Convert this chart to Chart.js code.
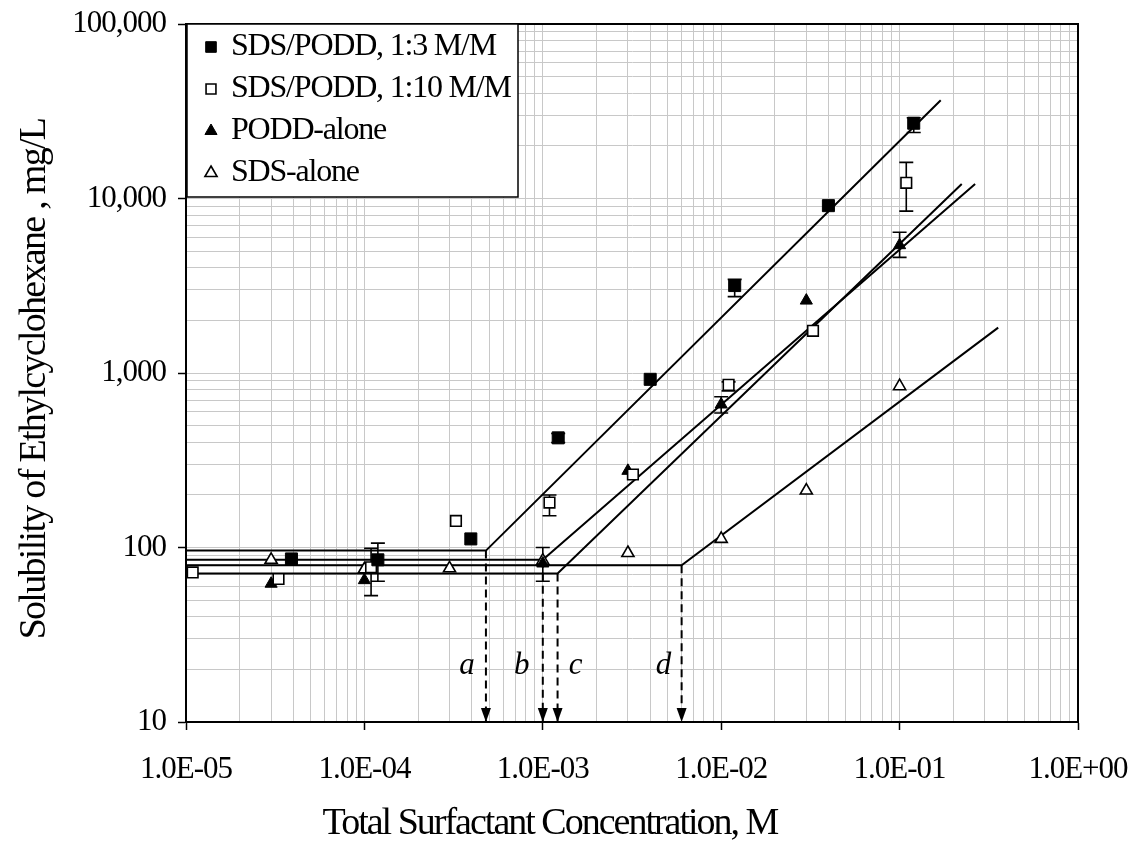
<!DOCTYPE html>
<html>
<head>
<meta charset="utf-8">
<script src="https://cdn.jsdelivr.net/npm/chart.js@4/dist/chart.umd.min.js"></script>
<style>
  body { margin: 0; background: #fff; }
  canvas { display: block; }
</style>
</head>
<body>
<canvas id="myChart" width="1137" height="852"></canvas>
<script>
// SDS/PODD, 1:3 M/M (filled squares)
let sq13X = [3.9e-5, 1.19e-4, 3.95e-4, 1.22e-3, 4.0e-3, 1.19e-2, 3.99e-2, 1.2e-1];
let sq13Y = [86, 85, 112, 425, 920, 3170, 9100, 27000];
let sq13Lo = [null, 64, null, 400, null, 2740, null, 23900];
let sq13Hi = [null, 106, null, 450, null, 3440, null, 29000];

// SDS/PODD, 1:10 M/M (open squares)
let sq110X = [1.09e-5, 3.3e-5, 1.09e-4, 3.26e-4, 1.09e-3, 3.2e-3, 1.1e-2, 3.27e-2, 1.09e-1];
let sq110Y = [72, 66, 77, 142, 181, 262, 855, 1745, 12300];
let sq110Lo = [null, null, 53, null, 152, null, 790, null, 8470];
let sq110Hi = [null, null, 99, null, 200, null, 890, null, 16100];

// PODD-alone (filled triangles)
let poddX = [1e-5, 3e-5, 1e-4, 1e-3, 3e-3, 1e-2, 3e-2, 1e-1];
let poddY = [73, 62, 65, 81, 275, 660, 2600, 5400];
let poddLo = [null, null, null, 64, null, 590, null, 4600];
let poddHi = [null, null, null, 100, null, 731, null, 6400];

// SDS-alone (open triangles)
let sdsX = [3e-5, 1e-4, 3e-4, 1e-3, 3e-3, 1e-2, 3e-2, 1e-1];
let sdsY = [85, 75, 76, 84, 93, 112, 212, 840];

// fitted lines: flat part, break, rising part
let fit13X = [1e-5, 4.8e-4, 0.17];
let fit13Y = [96, 96, 36600];
let fit110X = [1e-5, 1.0e-3, 0.265];
let fit110Y = [85, 85, 12100];
let fitPoddX = [1e-5, 1.21e-3, 0.223];
let fitPoddY = [71, 71, 12100];
let fitSdsX = [1e-5, 6.0e-3, 0.357];
let fitSdsY = [79, 79, 1820];

// dashed arrows at the breaks
let arrowX = [4.8e-4, 1.0e-3, 1.21e-3, 6.0e-3];
let arrowTopY = [96, 85, 71, 79];
let arrowLabels = ['a', 'b', 'c', 'd'];

let xMajor = [1e-5, 1e-4, 1e-3, 1e-2, 1e-1, 1];
let xTickLabels = ['1.0E-05', '1.0E-04', '1.0E-03', '1.0E-02', '1.0E-01', '1.0E+00'];
let yMajor = [10, 100, 1000, 10000, 100000];
let yTickLabels = ['10', '100', '1,000', '10,000', '100,000'];

let xTitle = 'Total Surfactant Concentration, M';
let yTitle = 'Solubility of Ethylcyclohexane , mg/L';

let serif = "'Liberation Serif', 'Times New Roman', serif";

function pts(xs, ys) {
    return xs.map((x, i) => ({ x: x, y: ys[i] }));
}

function isMajor(v) {
    let l = Math.log10(v);
    return Math.abs(l - Math.round(l)) < 1e-6;
}

// grid lines at 1..9 of every decade
function logTicks(majors) {
    let t = [];
    for (let i = 0; i < majors.length - 1; i++) {
        for (let m = 1; m < 10; m++) t.push({ value: m * majors[i] });
    }
    t.push({ value: majors[majors.length - 1] });
    return t;
}

function labelFor(v, majors, labels) {
    for (let i = 0; i < majors.length; i++) {
        if (Math.abs(v / majors[i] - 1) < 1e-6) return labels[i];
    }
    return '';
}

let pointSets = [
    { label: 'SDS/PODD, 1:3 M/M', data: pts(sq13X, sq13Y), lo: sq13Lo, hi: sq13Hi,
      pointStyle: 'rect', pointRadius: 8.5, backgroundColor: '#000', borderColor: '#000', borderWidth: 1, legendRadius: 7.5 },
    { label: 'SDS/PODD, 1:10 M/M', data: pts(sq110X, sq110Y), lo: sq110Lo, hi: sq110Hi,
      pointStyle: 'rect', pointRadius: 7.5, backgroundColor: '#fff', borderColor: '#000', borderWidth: 1.6, legendRadius: 7 },
    { label: 'PODD-alone', data: pts(poddX, poddY), lo: poddLo, hi: poddHi,
      pointStyle: 'triangle', pointRadius: 7, backgroundColor: '#000', borderColor: '#000', borderWidth: 1, legendRadius: 7 },
    { label: 'SDS-alone', data: pts(sdsX, sdsY),
      pointStyle: 'triangle', pointRadius: 7, backgroundColor: '#fff', borderColor: '#000', borderWidth: 1.6, legendRadius: 7 }
];
pointSets.forEach(d => { d.order = 0; d.showLine = false; });

let lineSets = [pts(fit13X, fit13Y), pts(fit110X, fit110Y), pts(fitPoddX, fitPoddY), pts(fitSdsX, fitSdsY)].map(d => ({
    data: d, showLine: true, borderColor: '#000', borderWidth: 2, pointRadius: 0, order: 1
}));

let arrowSets = arrowX.map((x, i) => ({
    data: [{ x: x, y: arrowTopY[i] }, { x: x, y: 10 }],
    showLine: true, borderColor: '#000', borderWidth: 2, borderDash: [8, 5], pointRadius: 0, order: 1
}));

// tight letter spacing for the tick labels too
let tightText = {
    id: 'tightText',
    beforeDraw(chart) {
        chart.ctx.letterSpacing = '-1px';
    }
};

let errorBars = {
    id: 'errorBars',
    beforeDatasetsDraw(chart) {
        let ctx = chart.ctx;
        let ys = chart.scales.y;
        ctx.save();
        ctx.strokeStyle = '#000';
        ctx.lineWidth = 1.6;
        chart.data.datasets.forEach((ds, i) => {
            if (!ds.lo) return;
            let meta = chart.getDatasetMeta(i);
            ds.lo.forEach((lo, j) => {
                if (lo == null) return;
                let x = meta.data[j].x;
                let y1 = ys.getPixelForValue(lo);
                let y2 = ys.getPixelForValue(ds.hi[j]);
                ctx.beginPath();
                ctx.moveTo(x, y1); ctx.lineTo(x, y2);
                ctx.moveTo(x - 7, y1); ctx.lineTo(x + 7, y1);
                ctx.moveTo(x - 7, y2); ctx.lineTo(x + 7, y2);
                ctx.stroke();
            });
        });
        ctx.restore();
    }
};

let frameAndNotes = {
    id: 'frameAndNotes',
    beforeDatasetsDraw(chart) {
        let a = chart.chartArea;
        let ctx = chart.ctx;
        ctx.save();
        ctx.strokeStyle = '#000';
        ctx.lineWidth = 2;
        ctx.strokeRect(a.left, a.top, a.right - a.left, a.bottom - a.top);
        ctx.restore();
    },
    afterDatasetsDraw(chart) {
        let ctx = chart.ctx;
        let xs = chart.scales.x, ys = chart.scales.y;
        let labelDx = [-19, -21, 18, -18];
        ctx.save();
        ctx.fillStyle = '#000';
        arrowX.forEach((v, i) => {
            let x = xs.getPixelForValue(v);
            let yb = chart.chartArea.bottom;
            ctx.beginPath();
            ctx.moveTo(x - 5, yb - 14);
            ctx.lineTo(x + 5, yb - 14);
            ctx.lineTo(x, yb);
            ctx.closePath();
            ctx.fill();
            ctx.font = 'italic 31px ' + serif;
            ctx.letterSpacing = '0px';
            ctx.textAlign = 'center';
            ctx.textBaseline = 'middle';
            ctx.fillText(arrowLabels[i], x + labelDx[i], ys.getPixelForValue(21));
        });

        // legend box inside the plot
        let bx = 187, by = 24, bw = 331, bh = 173;
        ctx.fillStyle = '#fff';
        ctx.fillRect(bx, by, bw, bh);
        ctx.strokeStyle = '#000';
        ctx.lineWidth = 1.5;
        ctx.strokeRect(bx, by, bw, bh);
        pointSets.forEach((ds, i) => {
            let y = 47 + i * 42;
            ctx.fillStyle = ds.backgroundColor;
            ctx.strokeStyle = ds.borderColor;
            ctx.lineWidth = ds.borderWidth;
            Chart.helpers.drawPoint(ctx, { pointStyle: ds.pointStyle, radius: ds.legendRadius, rotation: 0, borderWidth: ds.borderWidth }, 211, y);
            ctx.fillStyle = '#000';
            ctx.font = '32px ' + serif;
            ctx.letterSpacing = '-1.2px';
            ctx.textAlign = 'left';
            ctx.textBaseline = 'middle';
            ctx.fillText(ds.label, 231, y);
        });

        // axis titles, drawn a little condensed like the original
        ctx.font = '38px ' + serif;
        ctx.letterSpacing = '-2px';
        ctx.textAlign = 'center';
        ctx.textBaseline = 'alphabetic';
        ctx.fillText(xTitle, 550, 834);

        ctx.letterSpacing = '-1.7px';
        ctx.textBaseline = 'middle';
        ctx.translate(35, 379);
        ctx.rotate(-Math.PI / 2);
        ctx.fillText(yTitle, 0, 0);
        ctx.restore();
    }
};

let gridOpts = {
    color: '#c8c8c8',
    lineWidth: 1,
    drawTicks: true,
    tickLength: 8,
    tickWidth: 1.5,
    tickColor: (c) => (c.tick && isMajor(c.tick.value)) ? '#000' : 'rgba(0,0,0,0)'
};

let myChart = document.getElementById('myChart').getContext('2d');

let chart = new Chart(myChart, {
    type: 'scatter',
    data: { datasets: pointSets.concat(lineSets, arrowSets) },
    options: {
        responsive: false,
        animation: false,
        devicePixelRatio: 1,
        layout: { padding: { top: 24, right: 59, left: 0, bottom: 0 } },
        plugins: { legend: { display: false }, tooltip: { enabled: false } },
        scales: {
            x: {
                type: 'logarithmic',
                min: 1e-5,
                max: 1,
                afterBuildTicks: (s) => { s.ticks = logTicks(xMajor); },
                afterFit: (s) => { s.height = 130; s.paddingLeft = 0; s.paddingRight = 0; },
                grid: gridOpts,
                border: { color: '#000', width: 2 },
                ticks: {
                    autoSkip: false, maxRotation: 0, minRotation: 0, padding: 21, color: '#000',
                    font: { family: serif, size: 31 },
                    callback: (v) => labelFor(v, xMajor, xTickLabels)
                }
            },
            y: {
                type: 'logarithmic',
                min: 10,
                max: 100000,
                afterBuildTicks: (s) => { s.ticks = logTicks(yMajor); },
                afterFit: (s) => { s.width = 186; s.paddingTop = 0; s.paddingBottom = 0; },
                grid: gridOpts,
                border: { color: '#000', width: 2 },
                ticks: {
                    autoSkip: false, padding: 12, color: '#000',
                    font: { family: serif, size: 31 },
                    callback: (v) => labelFor(v, yMajor, yTickLabels)
                }
            }
        }
    },
    plugins: [tightText, errorBars, frameAndNotes]
});
</script>
</body>
</html>
